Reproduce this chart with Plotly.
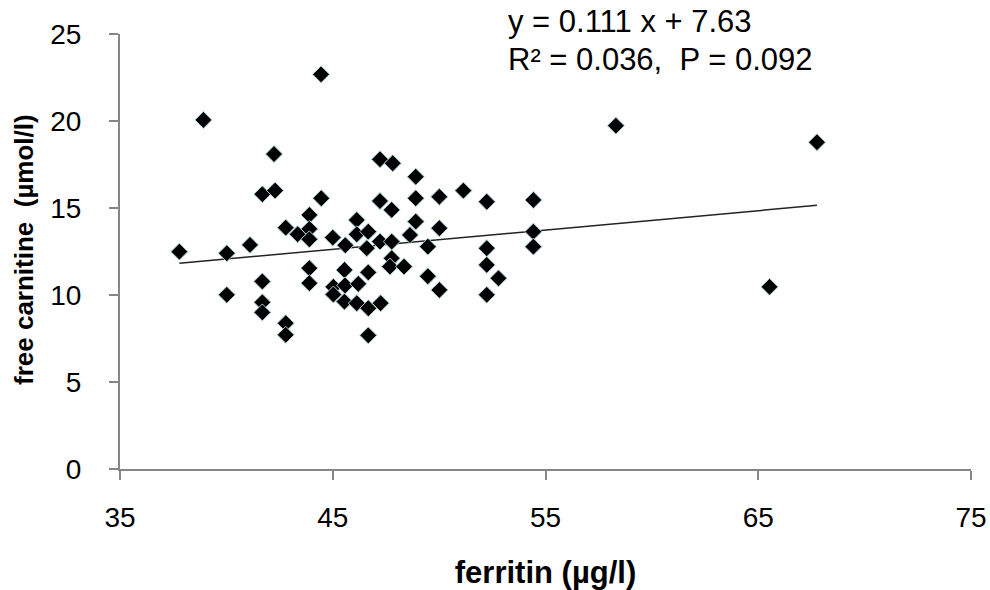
import plotly.graph_objects as go

ferritin = [37.79, 38.92, 44.45, 42.24, 47.22, 47.82, 41.69, 42.29, 44.46, 47.22,
            47.77, 43.90, 42.79, 43.35, 43.90, 43.90, 46.13, 45.00, 45.59, 46.13,
            46.67, 46.60, 47.22, 47.77, 47.77, 47.69, 40.02, 41.11, 43.90, 43.90,
            41.69, 40.02, 41.69, 41.69, 42.79, 42.79, 46.67, 45.55, 46.67, 45.03,
            45.58, 46.20, 45.03, 45.55, 46.13, 46.67, 47.25, 48.90, 48.90, 50.01,
            51.14, 52.24, 54.43, 48.90, 50.01, 48.63, 49.47, 52.24, 54.43, 54.43,
            48.35, 49.47, 50.01, 52.24, 52.79, 52.24, 58.31, 67.76, 65.53]
carnitine = [12.49, 20.06, 22.68, 18.10, 17.80, 17.57, 15.79, 16.00, 15.56, 15.40,
             14.89, 14.60, 13.87, 13.49, 13.80, 13.20, 14.31, 13.30, 12.86, 13.49,
             13.64, 12.69, 13.07, 13.07, 12.11, 11.63, 12.40, 12.88, 11.54, 10.68,
             10.78, 10.01, 9.58, 9.00, 8.38, 7.71, 7.68, 11.44, 11.30, 10.47,
             10.55, 10.64, 10.03, 9.62, 9.53, 9.24, 9.53, 16.80, 15.56, 15.65,
             16.00, 15.36, 15.46, 14.22, 13.84, 13.45, 12.78, 12.69, 13.64, 12.78,
             11.63, 11.08, 10.29, 11.73, 10.96, 10.01, 19.73, 18.78, 10.47]

slope = 0.111
intercept = 7.63
x_ticks = [35, 45, 55, 65, 75]
y_ticks = [0, 5, 10, 15, 20, 25]

xmin, xmax = min(ferritin), max(ferritin)
line_x = [xmin, xmax]
line_y = [slope * v + intercept for v in line_x]

FONT = "Liberation Sans, Arial"
tick_font = dict(family=FONT, size=28, color="black")

fig = go.Figure()
fig.add_trace(go.Scatter(
    x=line_x, y=line_y, mode="lines",
    line=dict(color="#222222", width=1.5), showlegend=False, hoverinfo="skip"))
fig.add_trace(go.Scatter(
    x=ferritin, y=carnitine, mode="markers",
    marker=dict(symbol="diamond", size=13, color="black",
                line=dict(color="#a9cfd4", width=1)),
    showlegend=False))

axis_common = dict(showgrid=False, zeroline=False, showline=True,
                   linecolor="#868686", linewidth=2, ticks="outside",
                   tickcolor="#868686", tickwidth=2, ticklen=9,
                   tickfont=tick_font, automargin=False)

fig.update_layout(
    width=990, height=590,
    margin=dict(l=120, r=19, t=34, b=121),
    plot_bgcolor="white", paper_bgcolor="white",
    xaxis=dict(range=[35, 75], tickvals=x_ticks, ticklabelstandoff=13,
               title=dict(text="<b>ferritin (µg/l)</b>", font=dict(family=FONT, size=31, color="black"), standoff=31),
               **axis_common),
    yaxis=dict(range=[0, 25], tickvals=y_ticks, ticklabelstandoff=22,
               **axis_common),
)

# y-axis title placed as rotated text
fig.add_annotation(xref="paper", yref="paper", x=(24 - 120) / 851, y=(469 - 250) / 435,
                   xanchor="center", yanchor="middle", showarrow=False, textangle=-90,
                   text="<b>free carnitine  (µmol/l)</b>",
                   font=dict(family=FONT, size=26, color="black"))

ann_x = (506 - 120) / 851
fig.add_annotation(xref="paper", yref="paper", x=ann_x, y=(469 - 22) / 435,
                   xanchor="left", yanchor="middle", showarrow=False,
                   text="y = 0.111 x + 7.63",
                   font=dict(family=FONT, size=31, color="black"))
fig.add_annotation(xref="paper", yref="paper", x=ann_x, y=(469 - 59) / 435,
                   xanchor="left", yanchor="middle", showarrow=False,
                   text="R² = 0.036,\u00a0 P = 0.092",
                   font=dict(family=FONT, size=31, color="black"))

fig.write_html("out.html", config={"displayModeBar": False},
               post_script="document.body.style.margin='0';document.body.style.overflow='hidden';")
